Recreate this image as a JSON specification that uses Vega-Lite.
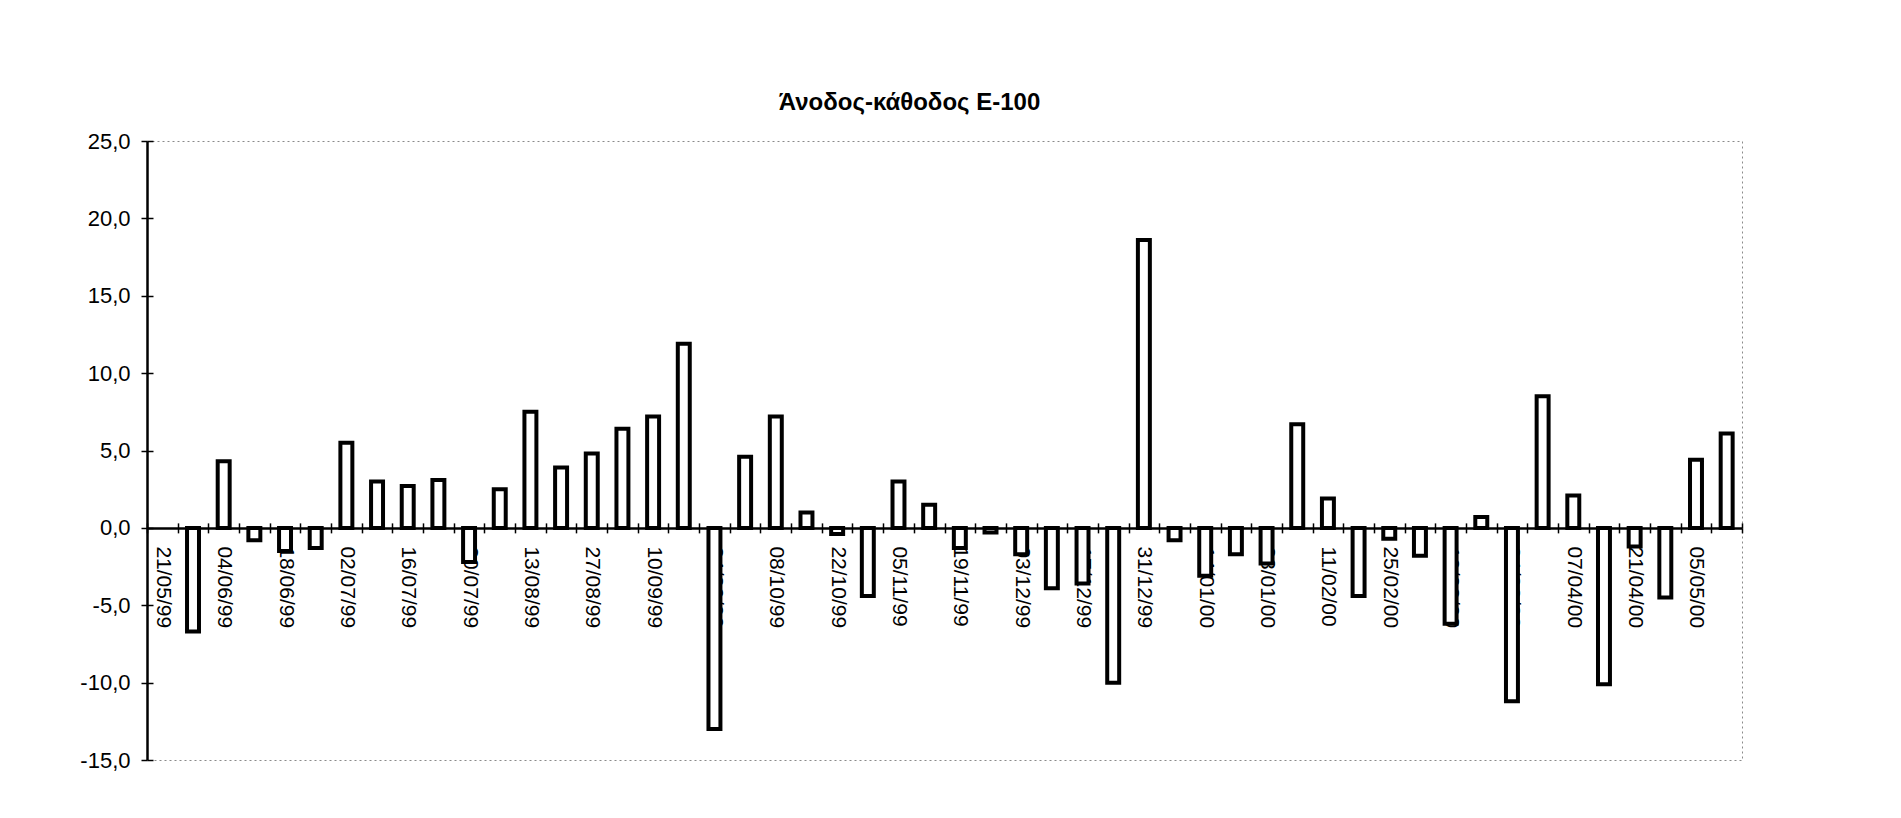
{
  "$schema": "https://vega.github.io/schema/vega-lite/v6.json",
  "width": 1595,
  "height": 619,
  "autosize": {"type": "none"},
  "padding": {"left": 147, "top": 141, "right": 159, "bottom": 58},
  "background": "white",
  "title": {
    "text": "Άνοδος-κάθοδος Ε-100",
    "font": "Liberation Sans",
    "fontSize": 24,
    "fontWeight": "bold",
    "color": "black",
    "anchor": "middle",
    "frame": "group",
    "baseline": "alphabetic",
    "offset": -4,
    "dx": -35
  },
  "data": {
    "values": [
      {"d": "21/05/99", "v": null},
      {"d": "28/05/99", "v": -6.7},
      {"d": "04/06/99", "v": 4.3},
      {"d": "11/06/99", "v": -0.8},
      {"d": "18/06/99", "v": -1.5},
      {"d": "25/06/99", "v": -1.3},
      {"d": "02/07/99", "v": 5.5},
      {"d": "09/07/99", "v": 3.0},
      {"d": "16/07/99", "v": 2.7},
      {"d": "23/07/99", "v": 3.1},
      {"d": "30/07/99", "v": -2.2},
      {"d": "06/08/99", "v": 2.5},
      {"d": "13/08/99", "v": 7.5},
      {"d": "20/08/99", "v": 3.9},
      {"d": "27/08/99", "v": 4.8},
      {"d": "03/09/99", "v": 6.4},
      {"d": "10/09/99", "v": 7.2},
      {"d": "17/09/99", "v": 11.9},
      {"d": "24/09/99", "v": -13.0},
      {"d": "01/10/99", "v": 4.6},
      {"d": "08/10/99", "v": 7.2},
      {"d": "15/10/99", "v": 1.0},
      {"d": "22/10/99", "v": -0.4},
      {"d": "29/10/99", "v": -4.4},
      {"d": "05/11/99", "v": 3.0},
      {"d": "12/11/99", "v": 1.5},
      {"d": "19/11/99", "v": -1.3},
      {"d": "26/11/99", "v": -0.3},
      {"d": "03/12/99", "v": -1.7},
      {"d": "10/12/99", "v": -3.9},
      {"d": "17/12/99", "v": -3.6},
      {"d": "24/12/99", "v": -10.0},
      {"d": "31/12/99", "v": 18.6},
      {"d": "07/01/00", "v": -0.8},
      {"d": "14/01/00", "v": -3.1},
      {"d": "21/01/00", "v": -1.7},
      {"d": "28/01/00", "v": -2.3},
      {"d": "04/02/00", "v": 6.7},
      {"d": "11/02/00", "v": 1.9},
      {"d": "18/02/00", "v": -4.4},
      {"d": "25/02/00", "v": -0.7},
      {"d": "03/03/00", "v": -1.8},
      {"d": "10/03/00", "v": -6.2},
      {"d": "17/03/00", "v": 0.7},
      {"d": "24/03/00", "v": -11.2},
      {"d": "31/03/00", "v": 8.5},
      {"d": "07/04/00", "v": 2.1},
      {"d": "14/04/00", "v": -10.1},
      {"d": "21/04/00", "v": -1.2},
      {"d": "28/04/00", "v": -4.5},
      {"d": "05/05/00", "v": 4.4},
      {"d": "12/05/00", "v": 6.1}
    ]
  },
  "layer": [
    {
      "mark": {"type": "bar", "fill": "white", "stroke": "black", "strokeWidth": 4, "width": {"band": 0.39}},
      "encoding": {
        "x": {
          "field": "d",
          "type": "ordinal",
          "sort": null,
          "scale": {
            "paddingInner": 0,
            "paddingOuter": 0,
            "domain": ["21/05/99","28/05/99","04/06/99","11/06/99","18/06/99","25/06/99","02/07/99","09/07/99","16/07/99","23/07/99","30/07/99","06/08/99","13/08/99","20/08/99","27/08/99","03/09/99","10/09/99","17/09/99","24/09/99","01/10/99","08/10/99","15/10/99","22/10/99","29/10/99","05/11/99","12/11/99","19/11/99","26/11/99","03/12/99","10/12/99","17/12/99","24/12/99","31/12/99","07/01/00","14/01/00","21/01/00","28/01/00","04/02/00","11/02/00","18/02/00","25/02/00","03/03/00","10/03/00","17/03/00","24/03/00","31/03/00","07/04/00","14/04/00","21/04/00","28/04/00","05/05/00","12/05/00"]
          },
          "axis": {
            "orient": "bottom",
            "offset": -232.125,
            "title": null,
            "tickBand": "extent",
            "tickSize": 5,
            "tickColor": "black",
            "tickWidth": 1.5,
            "domainColor": "black",
            "domainWidth": 2.5,
            "labelAngle": 90,
            "labelPadding": 13,
            "labelFont": "Liberation Sans",
            "labelFontSize": 21,
            "labelColor": "black",
            "labelOverlap": false,
            "labelExpr": "indexof(['21/05/99','04/06/99','18/06/99','02/07/99','16/07/99','30/07/99','13/08/99','27/08/99','10/09/99','24/09/99','08/10/99','22/10/99','05/11/99','19/11/99','03/12/99','17/12/99','31/12/99','14/01/00','28/01/00','11/02/00','25/02/00','10/03/00','24/03/00','07/04/00','21/04/00','05/05/00'], datum.value) >= 0 ? datum.value : ''",
            "grid": false
          }
        },
        "y": {
          "field": "v",
          "type": "quantitative",
          "scale": {"domain": [-15, 25], "nice": false, "zero": true},
          "axis": {
            "orient": "left",
            "title": null,
            "values": [-15, -10, -5, 0, 5, 10, 15, 20, 25],
            "tickSize": 6,
            "tickColor": "black",
            "tickWidth": 1.5,
            "domainColor": "black",
            "domainWidth": 2.5,
            "labelPadding": 11,
            "labelFont": "Liberation Sans",
            "labelFontSize": 22,
            "labelColor": "black",
            "labelExpr": "(datum.value < 0 ? '-' : '') + replace(format(abs(datum.value), '.1f'), '.', ',')",
            "grid": false
          }
        }
      }
    },
    {
      "mark": {"type": "point", "opacity": 0},
      "encoding": {
        "x": {
          "field": "d",
          "type": "ordinal",
          "sort": null,
          "axis": {
            "orient": "top",
            "offset": -386.875,
            "title": null,
            "tickBand": "extent",
            "tickSize": 5,
            "tickColor": "black",
            "tickWidth": 1.5,
            "domain": false,
            "labels": false,
            "grid": false
          }
        },
        "y": {
          "field": "v",
          "type": "quantitative",
          "axis": {
            "orient": "right",
            "offset": -1595,
            "title": null,
            "values": [-15, -10, -5, 0, 5, 10, 15, 20, 25],
            "tickSize": 6,
            "tickColor": "black",
            "tickWidth": 1.5,
            "domain": false,
            "labels": false,
            "grid": false
          }
        }
      }
    }
  ],
  "resolve": {"axis": {"x": "independent", "y": "independent"}},
  "config": {
    "view": {"stroke": "#8a8a8a", "strokeDash": [2, 3], "strokeWidth": 1}
  }
}
